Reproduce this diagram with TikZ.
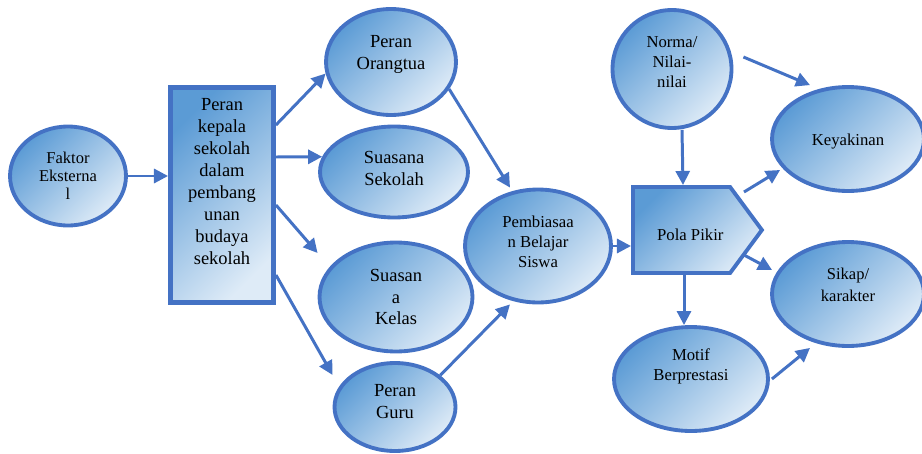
\documentclass[tikz,border=0pt]{standalone}
\usepackage{fontspec}
\setmainfont{Liberation Serif}
\usepackage{xcolor}
\usetikzlibrary{shapes.geometric,shapes.symbols,arrows.meta,calc}
\definecolor{lineblue}{HTML}{4472C4}
\definecolor{deepfill}{HTML}{5B9BD5}
\definecolor{paleblue}{HTML}{DEEBF7}

\begin{document}
\begin{tikzpicture}[x=0.02cm,y=-0.02cm,
  blob/.style={ellipse,draw=lineblue,line width=2.2pt,top color=deepfill,bottom color=paleblue,shading angle=45,align=center,inner sep=0pt},
  kotak/.style={rectangle,draw=lineblue,line width=2.8pt,top color=deepfill,bottom color=paleblue,shading angle=45,align=center,inner sep=0pt},
  big/.style={font=\fontsize{10.5}{12.5}\selectfont},
  small/.style={font=\fontsize{9.5}{11.4}\selectfont},
  link/.style={draw=lineblue,line width=1.7pt,-{Triangle[length=8pt,width=8pt]}}]
\useasboundingbox (0,0) rectangle (922,453);

\node[blob,font=\fontsize{9.4}{10.3}\selectfont,minimum width=2.32cm,minimum height=1.98cm] (faktor) at (68,176) {Faktor\\Eksterna\\l};
\node[kotak,big,minimum width=2.06cm,minimum height=4.3cm,text depth=15pt] (kepala) at (222,195) {Peran\\kepala\\sekolah\\dalam\\pembang\\unan\\budaya\\sekolah};

\node[blob,big,minimum width=2.6cm,minimum height=2.12cm,text depth=11pt] (orangtua) at (391,62) {Peran\\Orangtua};
\node[blob,big,minimum width=2.96cm,minimum height=1.82cm,text depth=4.5pt] (sekolah) at (394,172) {Suasana\\Sekolah};
\node[blob,big,minimum width=3.06cm,minimum height=2.18cm] (kelas) at (396,297) {Suasan\\a\\Kelas};
\node[blob,big,minimum width=2.42cm,minimum height=1.76cm,text depth=6pt] (guru) at (395,407) {Peran\\Guru};
\node[blob,small,minimum width=2.92cm,minimum height=2.26cm,text depth=4.5pt] (pembiasaan) at (538,246) {Pembiasaa\\n Belajar\\Siswa};

\node[blob,small,minimum width=2.38cm,minimum height=2.36cm,text depth=8pt] (norma) at (672,69) {Norma/\\Nilai-\\nilai};
\node[signal,signal to=east,signal pointer angle=107,draw=lineblue,line width=2.2pt,top color=deepfill,bottom color=paleblue,shading angle=45,inner sep=0pt,small,minimum width=2.58cm,minimum height=1.72cm,text height=12pt,anchor=west] (pola) at (631,230) {\hspace*{10pt}Pola Pikir};
\node[blob,small,minimum width=3.04cm,minimum height=2.08cm,text height=10pt] (keyakinan) at (848,139) {Keyakinan};
\node[blob,font=\fontsize{9.4}{12.5}\selectfont,minimum width=3.04cm,minimum height=2.08cm,text depth=10pt] (sikap) at (848,294) {Sikap/\\karakter};
\node[blob,small,minimum width=3.08cm,minimum height=2.08cm,text depth=16pt] (motif) at (691,379) {Motif\\Berprestasi};

\draw[link] (faktor.east) -- (faktor.east -| kepala.west);
\draw[link] ($(kepala.east)+(0,-70)$) -- (orangtua.190);
\draw[link] ($(kepala.east)+(0,-38)$) -- (sekolah.168);
\draw[link] ($(kepala.east)+(0,10)$) -- ($(kelas.west)+(0,-44)$);
\draw[link] ($(kepala.east)+(0,80)$) -- ($(guru.west)+(0,-32)$);
\draw[link] (orangtua.-25) -- ($(pembiasaan.north)+(-28,0)$);
\draw[link] (guru.35) -- ($(pembiasaan.south)+(-28,0)$);
\draw[link] (pembiasaan.east) -- (pembiasaan.east -| pola.west);
\draw[link] ($(norma.south)+(10,0)$) -- ($(pola.west)+(52,-45)$);
\draw[link] ($(pola.west)+(113,-38)$) -- ($(keyakinan.west)+(10,31)$);
\draw[link] ($(pola.west)+(113,25)$) -- ($(sikap.west)+(2,-24)$);
\draw[link] ($(pola.west)+(53,45)$) -- ($(motif.north)+(-7,0)$);
\draw[link] ($(norma.east)+(10,-12)$) -- ($(keyakinan.north)+(-38,0)$);
\draw[link] ($(motif.east)+(2,0)$) -- ($(sikap.south)+(-38,0)$);
\end{tikzpicture}
\end{document}
